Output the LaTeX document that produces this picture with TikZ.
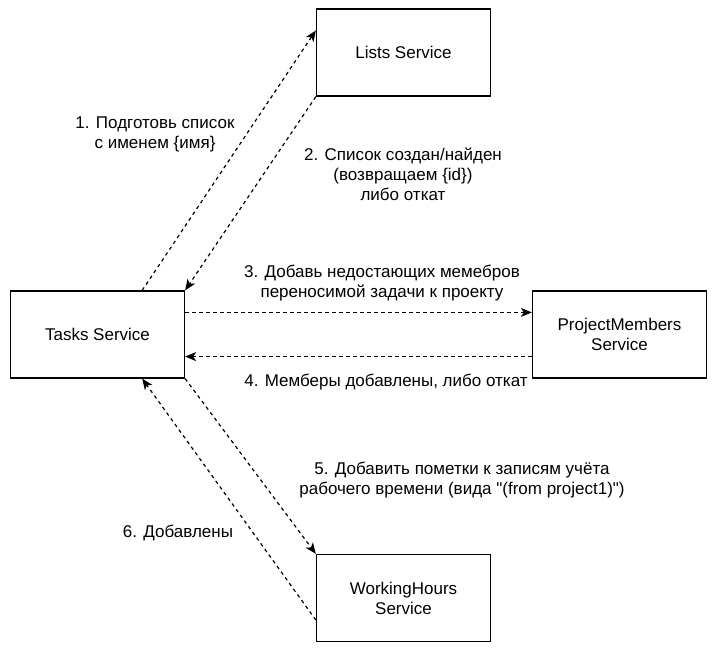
\documentclass[tikz,border=0pt]{standalone}
\usepackage{fontspec}
\setmainfont{Liberation Sans}[Ligatures=TeXOff]
\usetikzlibrary{arrows.meta,calc}
\begin{document}
\begin{tikzpicture}[x=1pt,y=-1pt,
  svc/.style={draw,line width=1.3pt,minimum width=174pt,minimum height=87pt,inner sep=0pt,align=center,font=\fontsize{17}{20}\selectfont},
  lbl/.style={align=center,inner sep=0pt,font=\fontsize{17}{20}\selectfont},
  flow/.style={line width=1.2pt,dash pattern=on 3.5pt off 3.5pt,-{Stealth[length=11pt,width=9pt,inset=3pt]}}]
\useasboundingbox (0,0) rectangle (717,650);
\node[svc] (lists) at (403.5,52.5) {Lists Service};
\node[svc] (tasks) at (97.5,334.5) {Tasks Service};
\node[svc] (pm) at (619.5,334.5) {ProjectMembers\\Service};
\node[svc] (wh) at (403.5,598) {WorkingHours\\Service};
\coordinate (t1) at ($(tasks.north west)!0.755!(tasks.north east)$);
\coordinate (l1) at ($(lists.north west)!0.25!(lists.south west)$);
\coordinate (te3) at ($(tasks.north east)!0.25!(tasks.south east)$);
\coordinate (pw3) at ($(pm.north west)!0.25!(pm.south west)$);
\coordinate (pw4) at ($(pm.north west)!0.75!(pm.south west)$);
\coordinate (te4) at ($(tasks.north east)!0.75!(tasks.south east)$);
\coordinate (w6) at ($(wh.north west)!0.75!(wh.south west)$);
\coordinate (t6) at ($(tasks.south west)!0.755!(tasks.south east)$);
\draw[flow] (t1) -- (l1);
\draw[flow] (lists.south west) -- (tasks.north east);
\draw[flow] (te3) -- (pw3);
\draw[flow] (pw4) -- (te4);
\draw[flow] (tasks.south east) -- (wh.north west);
\draw[flow] (w6) -- (t6);
\node[lbl] (L1) at (155,134) {1. Подготовь список\\с именем \{имя\}};
\node[lbl] (L2) at (403,174) {2. Список создан/найден\\(возвращаем \{id\})\\либо откат};
\node[lbl] (L3) at (382,283.5) {3. Добавь недостающих мемебров\\переносимой задачи к проекту};
\node[lbl] (L4) at (386,382) {4. Мемберы добавлены, либо откат};
\node[lbl] (L5) at (462,480.5) {5. Добавить пометки к записям учёта\\рабочего времени (вида "(from project1)")};
\node[lbl] (L6) at (178,533) {6. Добавлены};
\end{tikzpicture}
\end{document}
